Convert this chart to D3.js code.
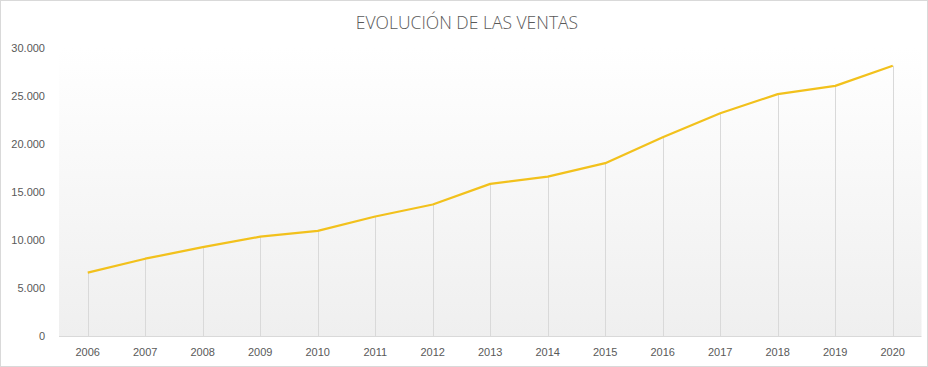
<!DOCTYPE html>
<html><head><meta charset="utf-8">
<script src="https://cdn.jsdelivr.net/npm/d3@7"></script>
<style>body{margin:0;background:#fff}svg{display:block}</style>
</head><body>
<script>
const years = ["2006","2007","2008","2009","2010","2011","2012","2013","2014","2015","2016","2017","2018","2019","2020"];
const ventas = [6600,8050,9250,10350,10950,12450,13700,15850,16600,18000,20700,23200,25200,26050,28150];
const yTicks = [0,5000,10000,15000,20000,25000,30000];
const title = "EVOLUCIÓN DE LAS VENTAS";

const W=928,H=367;
const svg=d3.select("body").append("svg").attr("width",W).attr("height",H);
const defs=svg.append("defs");
const g=defs.append("linearGradient").attr("id","bg").attr("x1",0).attr("y1",0).attr("x2",0).attr("y2",1);
g.append("stop").attr("offset","0%").attr("stop-color","#ffffff");
g.append("stop").attr("offset","100%").attr("stop-color","#efefef");

svg.append("rect").attr("x",0.5).attr("y",0.5).attr("width",W-1).attr("height",H-1)
  .attr("fill","#fff").attr("stroke","#d9d9d9");

const x=d3.scaleBand().domain(years).range([59,921.5]);
const y=d3.scaleLinear().domain([0,30000]).range([336,48]);

svg.append("rect").attr("x",59).attr("y",48).attr("width",921.5-59).attr("height",336-48).attr("fill","url(#bg)");

svg.append("text").attr("x",467).attr("y",29).attr("text-anchor","middle")
  .attr("font-family","Open Sans").attr("font-weight",300).attr("font-size",17.5)
  .attr("fill","#595959").text(title);

// y axis labels
svg.selectAll(".yl").data(yTicks).join("text")
  .attr("x",45).attr("y",d=>y(d)+4).attr("text-anchor","end")
  .attr("font-family","Liberation Sans").attr("font-size",11).attr("fill","#595959")
  .text(d=>d3.format(",")(d).replace(/,/g,"."));

// drop lines
svg.selectAll(".drop").data(ventas).join("line")
  .attr("x1",(d,i)=>Math.round(x(years[i])+x.bandwidth()/2)+0.5)
  .attr("x2",(d,i)=>Math.round(x(years[i])+x.bandwidth()/2)+0.5)
  .attr("y1",d=>y(d)).attr("y2",336)
  .attr("stroke","#d9d9d9").attr("stroke-width",1);

// x axis line
svg.append("line").attr("x1",59).attr("x2",921.5).attr("y1",336.5).attr("y2",336.5).attr("stroke","#d9d9d9");

// x labels
svg.selectAll(".xl").data(years).join("text")
  .attr("x",d=>x(d)+x.bandwidth()/2).attr("y",356).attr("text-anchor","middle")
  .attr("font-family","Liberation Sans").attr("font-size",11).attr("fill","#595959")
  .text(d=>d);

const line=d3.line().x((d,i)=>x(years[i])+x.bandwidth()/2).y(d=>y(d));
svg.append("path").datum(ventas).attr("d",line).attr("fill","none")
  .attr("stroke","#f2c11c").attr("stroke-width",2.25).attr("stroke-linejoin","round");
</script>
</body></html>
